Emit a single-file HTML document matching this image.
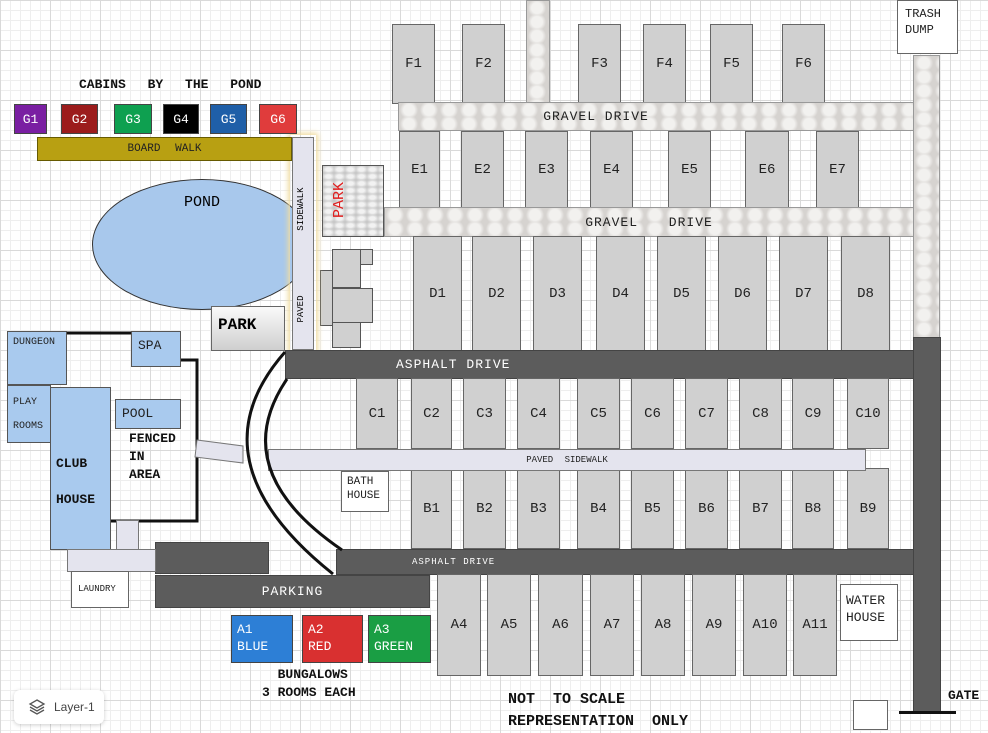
<!DOCTYPE html>
<html><head><meta charset="utf-8"><style>
*{margin:0;padding:0;box-sizing:border-box}
body{width:988px;height:728px;overflow:hidden;position:relative;font-family:"Liberation Mono",monospace;
background-color:#fff;
background-image:linear-gradient(#d9d9d9 1px,transparent 1px),linear-gradient(90deg,#d9d9d9 1px,transparent 1px),linear-gradient(#eee 1px,transparent 1px),linear-gradient(90deg,#eee 1px,transparent 1px);
background-size:50px 50px,50px 50px,10px 10px,10px 10px;}
div{position:absolute}
.l{background:#d0d0d0;border:1px solid #666;display:flex;align-items:center;justify-content:center;font-size:14px;color:#222}
.g{background:#e2e0de;border:1px solid #999;background-image:radial-gradient(circle,#f2f1ef 45%,#d6d3d0 75%);background-size:20px 14px;display:flex;align-items:center;justify-content:center;font-size:13px;color:#222;letter-spacing:1px}
.a{background:#5c5c5c;border:1px solid #444;color:#fff;display:flex;align-items:center;justify-content:center;font-size:13px;letter-spacing:1px}
.p{background:#e4e4ee;border:1px solid #777;display:flex;align-items:center;justify-content:center;font-size:9px;color:#222}
.b{background:#a9caee;border:1px solid #555;font-size:12px;color:#222}
.w{background:#fff;border:1px solid #666;font-size:11px;color:#222}
.gb{border:1px solid #444;color:#fff;font-size:13px;display:flex;align-items:center;justify-content:center}
.t{font-weight:bold;color:#111}
.s{border:1px solid #555;background:#d0d0d0}
</style></head><body>
<div class="g" style="left:526px;top:0;width:24px;height:103px"></div>
<div class="g" style="left:913px;top:55px;width:27px;height:283px"></div>
<div class="w" style="left:897px;top:0;width:61px;height:54px;padding:5px 0 0 7px;font-size:12px;line-height:16px">TRASH<br>DUMP</div>
<div class="l" style="left:392px;top:24px;width:43px;height:80px">F1</div>
<div class="l" style="left:462px;top:24px;width:43px;height:80px">F2</div>
<div class="l" style="left:578px;top:24px;width:43px;height:80px">F3</div>
<div class="l" style="left:643px;top:24px;width:43px;height:80px">F4</div>
<div class="l" style="left:710px;top:24px;width:43px;height:80px">F5</div>
<div class="l" style="left:782px;top:24px;width:43px;height:80px">F6</div>
<div class="g" style="left:398px;top:102px;width:516px;height:29px;padding-right:120px">GRAVEL DRIVE</div>
<div class="l" style="left:399px;top:131px;width:41px;height:77px">E1</div>
<div class="l" style="left:461px;top:131px;width:43px;height:77px">E2</div>
<div class="l" style="left:525px;top:131px;width:43px;height:77px">E3</div>
<div class="l" style="left:590px;top:131px;width:43px;height:77px">E4</div>
<div class="l" style="left:668px;top:131px;width:43px;height:77px">E5</div>
<div class="l" style="left:745px;top:131px;width:44px;height:77px">E6</div>
<div class="l" style="left:816px;top:131px;width:43px;height:77px">E7</div>
<div class="g" style="left:384px;top:207px;width:530px;height:30px;word-spacing:22px">GRAVEL DRIVE</div>
<div style="left:322px;top:165px;width:62px;height:72px;border:1px solid #555;background:#dcdcdc;background-image:radial-gradient(ellipse,#f2f2f2 35%,#c8c8c8 85%);background-size:11px 7px"></div>
<div style="left:320px;top:190px;width:40px;height:20px;transform:rotate(-90deg);color:#e02020;font-size:15px;text-align:center;line-height:20px">PARK</div>
<div class="l" style="left:413px;top:236px;width:49px;height:115px">D1</div>
<div class="l" style="left:472px;top:236px;width:49px;height:115px">D2</div>
<div class="l" style="left:533px;top:236px;width:49px;height:115px">D3</div>
<div class="l" style="left:596px;top:236px;width:49px;height:115px">D4</div>
<div class="l" style="left:657px;top:236px;width:49px;height:115px">D5</div>
<div class="l" style="left:718px;top:236px;width:49px;height:115px">D6</div>
<div class="l" style="left:779px;top:236px;width:49px;height:115px">D7</div>
<div class="l" style="left:841px;top:236px;width:49px;height:115px">D8</div>
<div class="s" style="left:320px;top:270px;width:13px;height:56px"></div>
<div class="s" style="left:332px;top:249px;width:29px;height:39px"></div>
<div class="s" style="left:360px;top:249px;width:13px;height:16px"></div>
<div class="s" style="left:332px;top:288px;width:41px;height:35px"></div>
<div class="s" style="left:332px;top:322px;width:29px;height:26px"></div>
<div style="left:92px;top:179px;width:220px;height:131px;border-radius:50%;background:#a8c8ec;border:1px solid #333;text-align:center;padding-top:14px;font-size:15px">POND</div>
<div style="left:290px;top:135px;width:26px;height:217px;box-shadow:0 0 5px 2px #f0dca0"></div>
<div class="p" style="left:292px;top:137px;width:22px;height:213px"></div>
<div style="left:218px;top:248px;width:170px;height:14px;transform:rotate(-90deg);font-size:9px;text-align:center;white-space:pre">PAVED            SIDEWALK</div>
<div style="left:37px;top:137px;width:255px;height:24px;background:#b8a012;border:1px solid #665a00;font-size:11px;text-align:center;line-height:22px;color:#222;word-spacing:8px">BOARD WALK</div>
<div class="t" style="left:79px;top:77px;font-size:13px;word-spacing:14px">CABINS BY THE POND</div>
<div class="gb" style="left:14px;top:104px;width:33px;height:30px;background:#7a1fa2">G1</div>
<div class="gb" style="left:61px;top:104px;width:37px;height:30px;background:#9c1c1c">G2</div>
<div class="gb" style="left:114px;top:104px;width:38px;height:30px;background:#0ea050">G3</div>
<div class="gb" style="left:163px;top:104px;width:36px;height:30px;background:#000">G4</div>
<div class="gb" style="left:210px;top:104px;width:37px;height:30px;background:#1f5fa8">G5</div>
<div class="gb" style="left:259px;top:104px;width:38px;height:30px;background:#e03c3c">G6</div>
<div style="left:211px;top:306px;width:74px;height:45px;border:1px solid #666;background:linear-gradient(#fafafa,#cfcfcf);font-weight:bold;font-size:16px;padding:9px 0 0 6px">PARK</div>
<div class="a" style="left:285px;top:350px;width:629px;height:29px;justify-content:flex-start;padding-left:110px">ASPHALT DRIVE</div>
<div class="a" style="left:913px;top:337px;width:28px;height:376px"></div>
<div style="left:899px;top:711px;width:57px;height:3px;background:#111"></div>
<div class="t" style="left:948px;top:688px;font-size:13px">GATE</div>
<div class="w" style="left:853px;top:700px;width:35px;height:30px"></div>
<div class="l" style="left:356px;top:378px;width:42px;height:71px">C1</div>
<div class="l" style="left:411px;top:378px;width:41px;height:71px">C2</div>
<div class="l" style="left:463px;top:378px;width:43px;height:71px">C3</div>
<div class="l" style="left:517px;top:378px;width:43px;height:71px">C4</div>
<div class="l" style="left:577px;top:378px;width:43px;height:71px">C5</div>
<div class="l" style="left:631px;top:378px;width:43px;height:71px">C6</div>
<div class="l" style="left:685px;top:378px;width:43px;height:71px">C7</div>
<div class="l" style="left:739px;top:378px;width:43px;height:71px">C8</div>
<div class="l" style="left:792px;top:378px;width:42px;height:71px">C9</div>
<div class="l" style="left:847px;top:378px;width:42px;height:71px">C10</div>
<div class="l" style="left:411px;top:468px;width:41px;height:81px">B1</div>
<div class="l" style="left:463px;top:468px;width:43px;height:81px">B2</div>
<div class="l" style="left:517px;top:468px;width:43px;height:81px">B3</div>
<div class="l" style="left:577px;top:468px;width:43px;height:81px">B4</div>
<div class="l" style="left:631px;top:468px;width:43px;height:81px">B5</div>
<div class="l" style="left:685px;top:468px;width:43px;height:81px">B6</div>
<div class="l" style="left:739px;top:468px;width:43px;height:81px">B7</div>
<div class="l" style="left:792px;top:468px;width:42px;height:81px">B8</div>
<div class="l" style="left:847px;top:468px;width:42px;height:81px">B9</div>
<div class="p" style="left:268px;top:449px;width:598px;height:22px;word-spacing:6px">PAVED SIDEWALK</div>
<div class="w" style="left:341px;top:471px;width:48px;height:41px;padding:3px 0 0 5px;line-height:14px">BATH<br>HOUSE</div>
<div class="a" style="left:336px;top:549px;width:578px;height:26px;font-size:9px;justify-content:flex-start;padding-left:75px">ASPHALT DRIVE</div>
<div class="l" style="left:437px;top:574px;width:44px;height:102px">A4</div>
<div class="l" style="left:487px;top:574px;width:44px;height:102px">A5</div>
<div class="l" style="left:538px;top:574px;width:45px;height:102px">A6</div>
<div class="l" style="left:590px;top:574px;width:44px;height:102px">A7</div>
<div class="l" style="left:641px;top:574px;width:44px;height:102px">A8</div>
<div class="l" style="left:692px;top:574px;width:44px;height:102px">A9</div>
<div class="l" style="left:743px;top:574px;width:44px;height:102px">A10</div>
<div class="l" style="left:793px;top:574px;width:44px;height:102px">A11</div>
<div class="w" style="left:840px;top:584px;width:58px;height:57px;padding:7px 0 0 5px;font-size:13px;line-height:17px">WATER<br>HOUSE</div>
<div class="a" style="left:155px;top:542px;width:114px;height:32px"></div>
<div class="a" style="left:155px;top:575px;width:275px;height:33px">PARKING</div>
<div class="gb" style="left:231px;top:615px;width:62px;height:48px;background:#2d7fd6;display:block;padding:5px 0 0 5px;line-height:17px">A1<br>BLUE</div>
<div class="gb" style="left:302px;top:615px;width:61px;height:48px;background:#d93030;display:block;padding:5px 0 0 5px;line-height:17px">A2<br>RED</div>
<div class="gb" style="left:368px;top:615px;width:63px;height:48px;background:#1a9e44;display:block;padding:5px 0 0 5px;line-height:17px">A3<br>GREEN</div>
<div class="t" style="left:262px;top:666px;font-size:13px;line-height:18px;text-align:center">&nbsp;BUNGALOWS<br>3 ROOMS EACH</div>
<div class="t" style="left:508px;top:689px;font-size:15px;line-height:22px;white-space:pre">NOT  TO SCALE
REPRESENTATION  ONLY</div>
<svg style="position:absolute;left:0;top:0" width="988" height="728">
<path d="M66 333H131M180 360H197V521H106" fill="none" stroke="#111" stroke-width="3"/>
<path d="M285 352Q190 460 333 574" fill="none" stroke="#111" stroke-width="3"/>
<path d="M287 379Q225 470 342 550" fill="none" stroke="#111" stroke-width="3"/>
<polygon points="197,440 243,446 243,463 195,457" fill="#e4e4ee" stroke="#777"/>
</svg>
<div class="b" style="left:7px;top:331px;width:60px;height:54px;font-size:10px;padding:5px 0 0 5px">DUNGEON</div>
<div class="b" style="left:131px;top:331px;width:50px;height:36px;font-size:13px;padding:6px 0 0 6px">SPA</div>
<div class="b" style="left:7px;top:385px;width:44px;height:58px;font-size:10px;padding:5px 0 0 5px;line-height:24px">PLAY<br>ROOMS</div>
<div class="b t" style="left:50px;top:387px;width:61px;height:163px;font-size:13px;padding:58px 0 0 5px;line-height:36px;font-weight:bold">CLUB<br>HOUSE</div>
<div class="b" style="left:115px;top:399px;width:66px;height:30px;font-size:13px;padding:6px 0 0 6px">POOL</div>
<div class="t" style="left:129px;top:430px;font-size:13px;line-height:18px">FENCED<br>IN<br>AREA</div>
<div class="p" style="left:116px;top:520px;width:23px;height:30px"></div>
<div class="p" style="left:67px;top:549px;width:89px;height:23px"></div>
<div class="w" style="left:71px;top:571px;width:58px;height:37px;font-size:9px;padding:12px 0 0 6px">LAUNDRY</div>
<div style="left:14px;top:690px;width:90px;height:34px;background:#fff;border-radius:6px;box-shadow:0 1px 4px rgba(0,0,0,.2);font-family:'Liberation Sans',sans-serif;font-size:12px;color:#444;padding:10px 0 0 40px">Layer-1</div>
<svg style="position:absolute;left:28px;top:698px" width="18" height="18"><path d="M9 2L16 6 9 10 2 6Z M2 9L9 13 16 9 M2 12L9 16 16 12" fill="none" stroke="#555" stroke-width="1.3"/></svg>
</body></html>
